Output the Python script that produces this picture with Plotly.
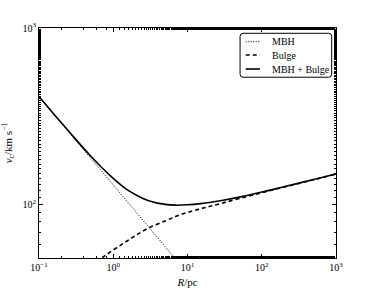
import plotly.graph_objects as go

# Data (R in pc, v_c in km/s)
R_mbh = [0.1, 0.3, 1, 3, 10]
v_mbh = [409, 236, 129, 75, 41]

R_bulge = [0.5, 0.7, 1, 1.5, 2, 3, 5, 7, 10, 15, 20, 30, 50, 100, 200, 500, 1000]
v_bulge = [45, 50, 55.5, 62, 67, 74, 81, 86, 90.5, 95, 98, 102.5, 108.5, 117, 126, 138.5, 149.5]

R_tot = [0.1, 0.15, 0.2, 0.3, 0.5, 0.7, 1, 1.5, 2, 3, 5, 7, 10, 15, 20, 30, 50, 100, 200, 500, 1000]
v_tot = [410, 335, 291, 239, 188, 162.5, 141, 122.5, 114, 105.5, 100.5, 99.5, 100, 101.5, 103, 106, 110.5, 118, 126.5, 139, 149.5]

x_tickvals = [0.1, 1, 10, 100, 1000]
x_ticktext = ["10<sup>−1</sup>", "10<sup>0</sup>", "10<sup>1</sup>", "10<sup>2</sup>", "10<sup>3</sup>"]
y_tickvals = [100, 1000]
y_ticktext = ["10<sup>2</sup>", "10<sup>3</sup>"]

legend_names = ["MBH", "Bulge", "MBH + Bulge"]

font = "Liberation Serif"

styles = [
    dict(color="black", width=1, dash="1px,1.5px"),
    dict(color="black", width=1.6, dash="4px,3px"),
    dict(color="black", width=1.6),
]

fig = go.Figure()
fig.add_trace(go.Scatter(x=R_mbh, y=v_mbh, mode="lines", name=legend_names[0], line=styles[0]))
fig.add_trace(go.Scatter(x=R_bulge, y=v_bulge, mode="lines", name=legend_names[1],
                         line=styles[1], line_shape="spline"))
fig.add_trace(go.Scatter(x=R_tot, y=v_tot, mode="lines", name=legend_names[2],
                         line=styles[2], line_shape="spline"))

axis_common = dict(
    showgrid=False, zeroline=False, showline=True, linecolor="black", linewidth=1,
    mirror="allticks", ticks="inside", ticklen=4, tickcolor="black", automargin=False,
    minor=dict(ticks="inside", ticklen=2, tickcolor="black", showgrid=False),
    tickfont=dict(family=font, size=10, color="black"),
)

fig.update_xaxes(type="log", range=[-1, 3], tickvals=x_tickvals, ticktext=x_ticktext,
                 title=dict(text="<i>R</i>/pc", font=dict(family=font, size=11, color="black")),
                 **axis_common)
fig.update_yaxes(type="log", range=[1.69897, 3], tickvals=y_tickvals, ticktext=y_ticktext,
                 title=dict(text="<i>v</i><sub>c</sub>/km s<sup>−1</sup>", font=dict(family=font, size=11, color="black")),
                 **axis_common)

# Custom compact legend (box with rounded corners, samples, labels)
x0, x1, yb, yt = 0.677, 0.9855, 0.786, 0.977
rx, ry = 0.010, 0.013
path = (f"M {x0+rx},{yt} L {x1-rx},{yt} Q {x1},{yt} {x1},{yt-ry} "
        f"L {x1},{yb+ry} Q {x1},{yb} {x1-rx},{yb} L {x0+rx},{yb} Q {x0},{yb} {x0},{yb+ry} "
        f"L {x0},{yt-ry} Q {x0},{yt} {x0+rx},{yt} Z")
fig.add_shape(type="path", path=path, xref="paper", yref="paper",
              line=dict(color="black", width=1), fillcolor="white", layer="above")
entry_y = [0.9404, 0.8826, 0.8217]
for name, sty, ey in zip(legend_names, styles, entry_y):
    fig.add_shape(type="line", xref="paper", yref="paper", x0=0.696, x1=0.744, y0=ey, y1=ey,
                  line=sty, layer="above")
    fig.add_annotation(text=name, xref="paper", yref="paper", x=0.778, y=ey,
                       xanchor="left", yanchor="middle", showarrow=False,
                       font=dict(family=font, size=10, color="black"))

fig.update_layout(
    width=375, height=288,
    margin=dict(l=39, r=39, t=28, b=30),
    paper_bgcolor="white", plot_bgcolor="white",
    font=dict(family=font, size=10, color="black"),
    showlegend=False,
)

fig.write_html("out.html", config={"displayModeBar": False},
               post_script="document.body.style.margin='0';document.body.style.overflow='hidden';")
